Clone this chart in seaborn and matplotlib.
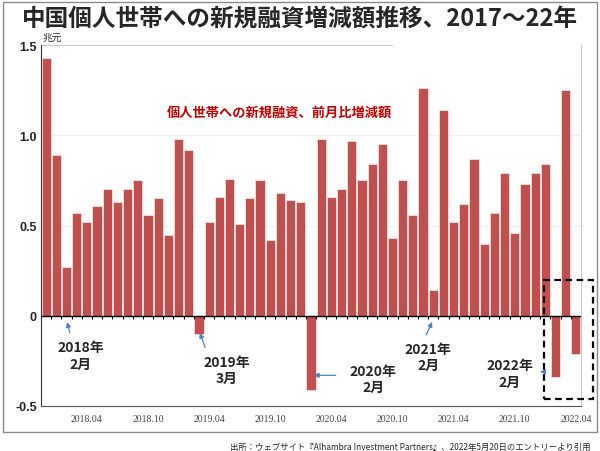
import matplotlib.pyplot as plt
import matplotlib.patches as mpatches
import numpy as np
import pandas as pd
import seaborn as sns

# monthly change in new loans to Chinese households (trillion yuan), 2017.12 - 2022.04
months = [p.strftime("%Y.%m") for p in pd.period_range("2017-12", "2022-04", freq="M")]
values = [
    1.43, 0.89, 0.27, 0.57, 0.52, 0.61, 0.70, 0.63, 0.70, 0.75, 0.56, 0.65, 0.45,
    0.98, 0.92, -0.10, 0.52, 0.66, 0.76, 0.51, 0.65, 0.75, 0.42, 0.68, 0.64, 0.63,
    -0.41, 0.98, 0.66, 0.70, 0.97, 0.75, 0.84, 0.95, 0.43, 0.75, 0.56, 1.26, 0.14,
    1.14, 0.52, 0.62, 0.87, 0.40, 0.57, 0.79, 0.46, 0.73, 0.79, 0.84, -0.34, 1.25,
    -0.21,
]
tick_labels = ["2018.04", "2018.10", "2019.04", "2019.10", "2020.04",
               "2020.10", "2021.04", "2021.10", "2022.04"]
y_ticks = [-0.5, 0, 0.5, 1.0, 1.5]
y_tick_labels = ["-0.5", "0", "0.5", "1.0", "1.5"]

# callouts: label, month pointed at, text position, arrow start
callouts = [
    ("2018年\n2月", "2018.02", (3.4, -0.22), (2.4, -0.11)),
    ("2019年\n3月", "2019.03", (17.7, -0.30), (15.7, -0.19)),
    ("2020年\n2月", "2020.02", (32.1, -0.35), (28.7, -0.33)),
    ("2021年\n2月", "2021.02", (37.5, -0.23), (37.2, -0.12)),
    ("2022年\n2月", "2022.02", (45.5, -0.32), (48.7, -0.31)),
]

sns.set_style("white")
plt.rcParams["font.family"] = ["Noto Sans CJK JP", "DejaVu Sans"]

df = pd.DataFrame({"month": months, "value": values})

fig = plt.figure(figsize=(6, 4.52), dpi=100)
ax = fig.add_axes([41 / 600, 1 - 407 / 452, 540 / 600, 361 / 452])

sns.barplot(data=df, x="month", y="value", color="#c0504d", saturation=1,
            width=0.9, edgecolor="white", linewidth=0.4, ax=ax)

ax.set_xlim(-0.5, len(months) - 0.5)
ax.set_ylim(-0.5, 1.5)
ax.set_xlabel("")
ax.set_ylabel("")

# faint grid + zero line with small ticks at bar boundaries
for g in [0.5, 1.0]:
    ax.axhline(g, color="#f0f0f0", lw=0.8, zorder=0)
ax.axhline(1.5, xmin=0, xmax=0.65, color="#c8c8c8", lw=0.8, clip_on=False)
ax.axhline(0, color="black", lw=1.0, zorder=3)
bounds = np.arange(len(months) + 1) - 0.5
ax.vlines(bounds[1:-1], -0.018, 0, color="black", lw=0.8, zorder=3)

tick_pos = [months.index(t) for t in tick_labels]
ax.set_xticks(tick_pos)
ax.set_xticklabels(tick_labels, family="Liberation Serif", fontsize=7, color="#444444")
ax.set_yticks(y_ticks)
ax.set_yticklabels(y_tick_labels, family="Liberation Sans", fontsize=9,
                   fontweight="bold")
ax.tick_params(axis="both", length=0, pad=6)
ax.tick_params(axis="y", pad=3)

for side in ["top"]:
    ax.spines[side].set_visible(False)
ax.spines["right"].set_color("#c8c8c8")
ax.spines["left"].set_color("#333333")
ax.spines["bottom"].set_color("#555555")

ax.text(-0.4, 1.52, "兆元", fontsize=7, ha="left", va="bottom")

ax.text(22.9, 1.13, "個人世帯への新規融資、前月比増減額", color="#c00000",
        fontsize=9.5, fontweight="bold", ha="center", va="center")

for label, month, text_xy, start in callouts:
    i = months.index(month)
    v = values[i]
    tip_y = -0.02 if v > 0 else v + 0.02
    if month == "2020.02":
        tip = (i + 0.0, start[1])
    elif month == "2022.02":
        tip = (i - 1.5, start[1])
    else:
        tip = (i, tip_y)
    ax.annotate("", xy=tip, xytext=start,
                arrowprops=dict(arrowstyle="-|>", color="#4f81bd", lw=0.9,
                                mutation_scale=7))
    ax.text(*text_xy, label, fontsize=10, fontweight="bold", ha="center",
            va="center", linespacing=1.2)

# dashed box around the latest months
box = mpatches.Rectangle((48.9, -0.46), 4.8, 0.66, fill=False, ls=(0, (3, 2)),
                         lw=1.6, edgecolor="black", clip_on=False, zorder=4)
ax.add_patch(box)

fig.text(0.5, 1 - 20 / 452, "中国個人世帯への新規融資増減額推移、2017～22年",
         ha="center", va="center", fontsize=17, fontweight="bold")
fig.text(0.985, 1 - 447 / 452,
         "出所：ウェブサイト『Alhambra Investment Partners』、2022年5月20日のエントリーより引用",
         ha="right", va="center", fontsize=6)

frame = mpatches.Rectangle((0.005, 1 - 433 / 452), 0.99, 430 / 452,
                           transform=fig.transFigure, fill=False,
                           edgecolor="#8a8a8a", lw=1.0)
fig.patches.append(frame)

fig.savefig("out.png", dpi=100)
